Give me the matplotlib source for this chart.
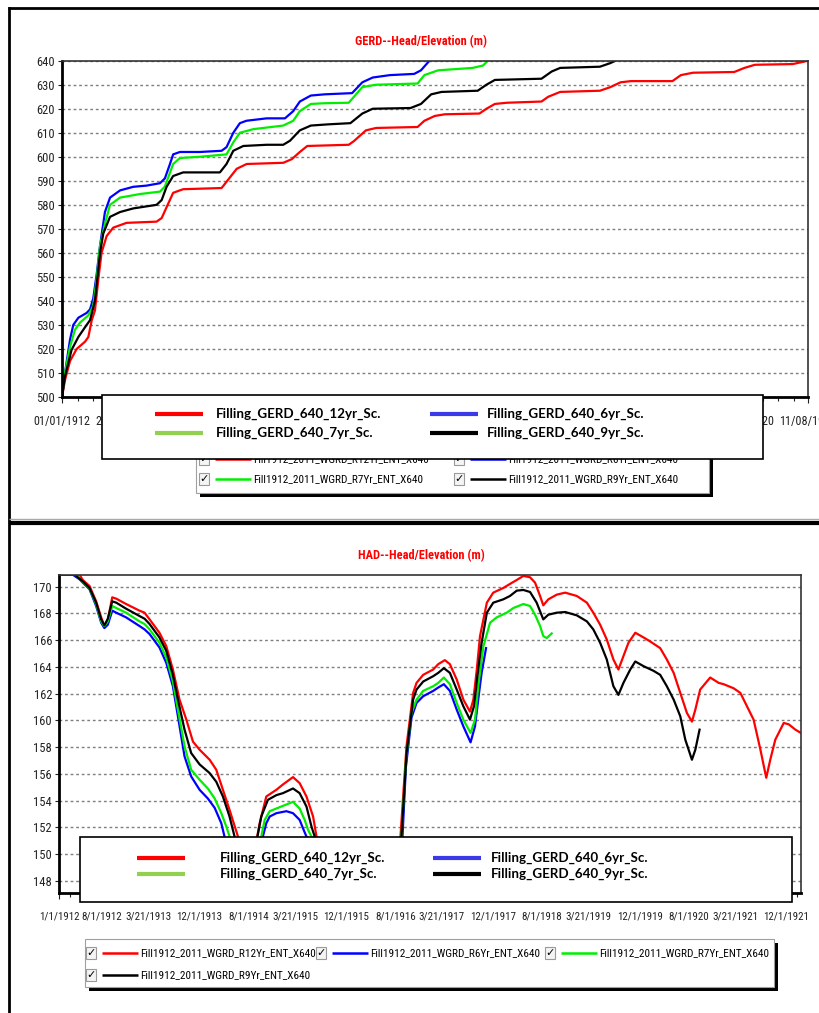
import numpy as np
import pandas as pd
import matplotlib
matplotlib.use("Agg")
import matplotlib.pyplot as plt
from matplotlib import font_manager as fm
from matplotlib.patches import Rectangle
from matplotlib.lines import Line2D
from matplotlib.ticker import AutoMinorLocator

W, H = 820, 1013
START = pd.Timestamp("1912-01-01")

# ---- GERD head/elevation (m), x = days since 1/1/1912 ----
gerd_12yr_days = [0, 14, 38, 69, 108, 124, 140, 155, 171, 186, 210, 241, 304, 445, 469, 492, 523, 570,
                  751, 782, 822, 869, 1041, 1081, 1119, 1154, 1349, 1373, 1430, 1478, 1673, 1705, 1754,
                  1802, 1964, 1997, 2037, 2094, 2256, 2288, 2344, 2531, 2580, 2628, 2677, 2872, 2912,
                  2969, 3163, 3211, 3260, 3438, 3486, 3510]
gerd_12yr = [500, 507, 515, 520, 523, 525, 532, 536, 549, 560, 567, 570.5, 572.5, 573, 574.5, 579, 585,
             586.5, 587, 590.5, 595, 597, 597.5, 599, 602, 604.5, 605, 606.5, 611, 612, 612.4, 615, 617,
             617.7, 618, 620, 622, 622.5, 623, 625, 627, 627.5, 629, 631, 631.5, 631.5, 634, 635, 635.3,
             637, 638.3, 638.6, 639.5, 640]

gerd_6yr_days = [0, 14, 38, 53, 77, 116, 132, 147, 163, 179, 202, 226, 273, 335, 398, 461, 484, 508, 523,
                 555, 649, 751, 774, 806, 837, 868, 963, 1049, 1088, 1119, 1171, 1236, 1365, 1413, 1462,
                 1543, 1657, 1689, 1729]
gerd_6yr = [500, 510, 524, 530, 533, 535, 536.5, 541, 551, 563, 577, 583, 586, 587.5, 588, 589, 591, 597,
            601, 602, 602, 602.5, 604, 610, 614, 615, 616, 616, 619, 623, 625.5, 626, 626.5, 631, 633,
            634, 634.5, 636, 640]

gerd_7yr_days = [0, 14, 38, 61, 85, 124, 147, 163, 179, 202, 226, 273, 367, 461, 484, 523, 555, 649, 774,
                 806, 837, 900, 1041, 1088, 1119, 1171, 1236, 1349, 1413, 1478, 1673, 1705, 1770, 1932,
                 1981, 2004]
gerd_7yr = [500, 510, 521, 528, 531, 534, 538, 549, 563, 572, 580, 583, 584.5, 585.5, 587.6, 597, 599.5,
            600, 601, 606, 610, 611.5, 613, 615, 619, 622, 622.3, 622.5, 629, 630, 630.5, 634, 636, 637,
            638, 640]

gerd_9yr_days = [0, 14, 45, 77, 108, 132, 155, 179, 194, 226, 273, 335, 445, 469, 492, 523, 570, 743, 774,
                 806, 853, 963, 1041, 1073, 1119, 1171, 1252, 1357, 1413, 1462, 1640, 1689, 1737, 1786,
                 1956, 1997, 2037, 2256, 2304, 2344, 2531, 2580, 2604]
gerd_9yr = [500, 508.6, 519.6, 525, 529, 532, 540, 560, 568, 575, 577, 578.5, 580, 582, 587.5, 592, 593.5,
            593.5, 597, 602.5, 604.5, 605, 605, 606.7, 611, 613, 613.5, 614, 618, 620, 620.3, 622, 626,
            627, 627.5, 630, 632, 632.5, 635.5, 637, 637.5, 639, 640]

gerd_ticks = ["01/01/1912", "20/10/1912", "08/08/1913", "27/05/1914", "16/03/1915", "02/01/1916",
              "21/10/1916", "09/08/1917", "29/05/1918", "17/03/1919", "04/01/1920", "22/10/1920",
              "11/08/1921"]

# ---- HAD head/elevation (m) ----
had_12yr_days = [0, 102, 118, 152, 185, 210, 226, 243, 265, 285, 334, 401, 426, 451, 500, 534, 567, 600,
                 634, 667, 700, 750, 783, 816, 849, 891, 940, 999, 1032, 1082, 1115, 1165, 1198, 1232,
                 1265, 1282, 1490, 1700, 1730, 1763, 1780, 1813, 1863, 1888, 1921, 1946, 1980, 2013, 2046,
                 2063, 2080, 2096, 2130, 2162, 2212, 2245, 2279, 2312, 2345, 2370, 2395, 2411, 2436, 2478,
                 2520, 2578, 2628, 2660, 2694, 2727, 2760, 2785, 2810, 2835, 2869, 2910, 2943, 2993, 3026,
                 3060, 3093, 3126, 3151, 3168, 3192, 3242, 3284, 3309, 3358, 3392, 3425, 3458, 3492, 3521,
                 3541, 3566, 3608, 3633, 3666, 3694]
had_12yr = [170.9, 170.9, 170.5, 170.05, 168.9, 167.7, 167.05, 167.5, 169.2, 169.1, 168.7, 168.2, 168.05,
            167.55, 166.55, 165.55, 163.8, 161.55, 160.05, 158.4, 157.8, 157.05, 156.3, 154.8, 153.3,
            151.3, 147.5, 152.3, 154.3, 154.8, 155.2, 155.75, 155.3, 154.3, 152.8, 151.3, 147.5, 151.3,
            158.05, 162.05, 162.8, 163.4, 163.8, 164.2, 164.5, 164.2, 163.05, 161.55, 160.65, 161.55,
            163.8, 166.3, 168.8, 169.55, 169.9, 170.2, 170.5, 170.8, 170.7, 170.3, 169.3, 168.6, 169.05,
            169.4, 169.55, 169.3, 168.8, 168.05, 167.15, 166.05, 164.55, 163.8, 164.8, 165.8, 166.55,
            166.2, 165.9, 165.4, 164.55, 163.55, 162.05, 160.55, 159.9, 160.8, 162.3, 163.2, 162.8,
            162.7, 162.4, 162.05, 161.05, 160.05, 157.8, 155.7, 157.05, 158.55, 159.8, 159.7, 159.3,
            159.05]

had_6yr_days = [0, 68, 102, 152, 185, 210, 226, 243, 265, 285, 334, 401, 426, 451, 500, 534, 567, 592, 625,
                658, 700, 741, 775, 808, 824, 910, 1015, 1032, 1049, 1082, 1132, 1165, 1198, 1218, 1232,
                1490, 1710, 1727, 1755, 1780, 1813, 1863, 1888, 1916, 1946, 1980, 2013, 2049, 2071, 2087,
                2104, 2126]
had_6yr = [170.9, 170.9, 170.55, 169.8, 168.55, 167.3, 166.9, 167.15, 168.2, 168.05, 167.7, 167.05, 166.8,
           166.45, 165.45, 164.3, 162.55, 160.3, 157.3, 155.8, 154.8, 154.15, 153.45, 152.3, 151.3, 147.5,
           151.3, 152.3, 152.8, 153.05, 153.2, 153.05, 152.55, 151.8, 151.3, 147.5, 151.3, 156.5, 160.2,
           161.3, 161.8, 162.2, 162.45, 162.7, 162.2, 160.8, 159.55, 158.35, 159.55, 161.55, 163.55,
           165.4]

had_7yr_days = [0, 77, 102, 152, 185, 210, 226, 243, 265, 285, 334, 401, 426, 451, 500, 534, 567, 592, 625,
                658, 700, 741, 775, 808, 833, 849, 920, 1007, 1024, 1049, 1082, 1132, 1165, 1198, 1223,
                1240, 1257, 1490, 1705, 1727, 1755, 1780, 1813, 1863, 1888, 1916, 1946, 1980, 2013, 2049,
                2071, 2087, 2113, 2146, 2179, 2229, 2262, 2312, 2345, 2370, 2395, 2411, 2428, 2453]
had_7yr = [170.9, 170.9, 170.6, 169.85, 168.7, 167.4, 167.05, 167.4, 168.55, 168.4, 168.05, 167.4, 167.2,
           166.8, 165.8, 164.7, 162.9, 160.8, 158.05, 156.3, 155.55, 154.9, 154.15, 153.05, 152.05, 151.3,
           147.5, 151.3, 152.55, 153.2, 153.4, 153.7, 153.9, 153.4, 152.55, 151.8, 151.3, 147.5, 151.3,
           157.0, 160.55, 161.55, 162.2, 162.55, 162.8, 163.2, 162.7, 161.3, 160.05, 159.05, 160.05,
           162.55, 165.55, 167.3, 167.7, 168.05, 168.4, 168.7, 168.55, 167.9, 167.05, 166.3, 166.15, 166.5]

had_9yr_days = [0, 77, 118, 152, 185, 210, 226, 243, 265, 285, 334, 401, 426, 451, 500, 534, 567, 592, 625,
                658, 700, 750, 783, 816, 849, 874, 935, 988, 1007, 1040, 1082, 1115, 1165, 1198, 1232,
                1257, 1273, 1490, 1705, 1730, 1763, 1780, 1813, 1863, 1888, 1916, 1946, 1980, 2013, 2046,
                2066, 2083, 2104, 2130, 2162, 2212, 2245, 2279, 2312, 2345, 2378, 2411, 2436, 2478, 2520,
                2578, 2628, 2660, 2694, 2727, 2760, 2785, 2810, 2844, 2869, 2910, 2960, 2993, 3026, 3060,
                3093, 3118, 3151, 3168, 3189]
had_9yr = [170.9, 170.9, 170.4, 169.9, 168.8, 167.55, 167.1, 167.6, 168.9, 168.8, 168.35, 167.8, 167.6,
           167.2, 166.2, 165.2, 163.4, 161.55, 159.3, 157.55, 156.7, 156.05, 155.4, 154.3, 152.8, 151.3,
           147.5, 151.3, 152.8, 154.05, 154.4, 154.55, 154.9, 154.55, 153.55, 152.05, 151.3, 147.5, 151.3,
           157.5, 161.55, 162.3, 162.9, 163.3, 163.55, 163.9, 163.55, 162.3, 161.05, 160.05, 161.05,
           163.3, 165.8, 168.05, 168.8, 169.05, 169.3, 169.7, 169.75, 169.6, 168.8, 167.55, 167.9, 168.05,
           168.1, 167.85, 167.4, 166.8, 165.8, 164.55, 162.55, 161.9, 162.8, 163.8, 164.4, 164.05, 163.7,
           163.4, 162.55, 161.55, 160.3, 158.55, 157.05, 157.8, 159.3]

had_ticks = ["1/1/1912", "8/1/1912", "3/21/1913", "12/1/1913", "8/1/1914", "3/21/1915", "12/1/1915",
             "8/1/1916", "3/21/1917", "12/1/1917", "8/1/1918", "3/21/1919", "12/1/1919", "8/1/1920",
             "3/21/1921", "12/1/1921"]

overlay_names = ["Filling_GERD_640_12yr_Sc.", "Filling_GERD_640_7yr_Sc.",
                 "Filling_GERD_640_6yr_Sc.", "Filling_GERD_640_9yr_Sc."]
overlay_colors = ["#ff0000", "#92d050", "#3a3ae8", "#000000"]
series_names = ["Fill1912_2011_WGRD_R12Yr_ENT_X640", "Fill1912_2011_WGRD_R6Yr_ENT_X640",
                "Fill1912_2011_WGRD_R7Yr_ENT_X640", "Fill1912_2011_WGRD_R9Yr_ENT_X640"]
series_colors = ["#ff0000", "#0000ff", "#00ee00", "#000000"]


def pick_font(cands, fallback):
    # first narrow family that is really installed, else a regular one shrunk a bit
    for name in cands:
        try:
            fm.findfont(fm.FontProperties(family=name), fallback_to_default=False)
            return name, 1.0
        except ValueError:
            continue
    path = fm.findfont(fm.FontProperties(family="DejaVu Sans", stretch="condensed"))
    if "Condensed" in path:
        return "DejaVu Sans", 0.9
    return fallback, 0.84


NARROW_NAME, NS = pick_font(["Liberation Sans Narrow", "Arial Narrow", "Roboto Condensed",
                             "Open Sans Condensed", "Noto Sans Condensed"], "Liberation Sans")
NARROW = [NARROW_NAME, "DejaVu Sans"]
STRETCH = "condensed" if NARROW_NAME == "DejaVu Sans" else "normal"
BOLD = ["Lato", "DejaVu Sans"]


def days(d):
    return START + pd.to_timedelta(np.asarray(d, dtype=float), unit="D")


def fx(x):
    return x / W


def fy(y):
    return 1 - y / H


fig = plt.figure(figsize=(W / 100, H / 100), dpi=100)


def narrow_text(x, y, s, size, **kw):
    return fig.text(fx(x), fy(y), s, family=NARROW, fontstretch=STRETCH, fontsize=size * NS, **kw)


def setup(ax, ylim, yticks, span, tick_pos, tick_labels, title, title_y, lsize, hidden=(0, 0)):
    ax.set_xlim(START, START + pd.Timedelta(days=span))
    ax.set_ylim(*ylim)
    ax.set_yticks(yticks)
    ax.set_yticklabels([str(v) for v in yticks], family=NARROW, fontstretch=STRETCH, fontsize=9.0 * NS)
    ax.set_xticks(tick_pos)
    ax.set_xticklabels(tick_labels, family=NARROW, fontstretch=STRETCH, fontsize=lsize * NS)
    ax.xaxis.set_minor_locator(AutoMinorLocator(4))
    ax.tick_params(axis="y", length=3, width=0.8, pad=2, colors="#222222")
    ax.tick_params(axis="x", which="both", length=4, width=0.8, pad=9, colors="#222222")
    ax.tick_params(axis="x", which="minor", length=3, pad=9)
    ax.grid(axis="y", color="#7f7f7f", lw=1.0, ls=(0, (2, 2)))
    ax.set_axisbelow(True)
    for s in ["left", "bottom"]:
        ax.spines[s].set_linewidth(2.0)
        ax.spines[s].set_color("black")
    for s in ["top", "right"]:
        ax.spines[s].set_linewidth(1.2)
        ax.spines[s].set_color("#333333")
    # labels lying wholly behind the pasted legend box are not drawn
    for lab in ax.get_xticklabels()[hidden[0]:hidden[1]]:
        lab.set_visible(False)
    narrow_text(421, title_y, title, 8.9, color="#ff0000", fontweight="bold", ha="center", va="center")


# top chart
ax1 = fig.add_axes([fx(62), fy(397), (808 - 62) / W, (397 - 60.7) / H])
for d, v, c in [(gerd_12yr_days, gerd_12yr, series_colors[0]), (gerd_6yr_days, gerd_6yr, series_colors[1]),
                (gerd_7yr_days, gerd_7yr, series_colors[2]), (gerd_9yr_days, gerd_9yr, series_colors[3])]:
    ax1.plot(days(d), v, color=c, lw=1.6, solid_joinstyle="round")
setup(ax1, (500, 640), list(range(500, 641, 10)), 3510,
      pd.to_datetime(gerd_ticks, format="%d/%m/%Y"), gerd_ticks,
      "GERD--Head/Elevation (m)", 42, 8.7, hidden=(2, 11))

# bottom chart
ax2 = fig.add_axes([fx(59), fy(893), (801 - 59) / W, (893 - 575) / H])
for d, v, c in [(had_12yr_days, had_12yr, series_colors[0]), (had_6yr_days, had_6yr, series_colors[1]),
                (had_7yr_days, had_7yr, series_colors[2]), (had_9yr_days, had_9yr, series_colors[3])]:
    ax2.plot(days(d), v, color=c, lw=1.6, solid_joinstyle="round")
setup(ax2, (147.08, 170.87), list(range(148, 171, 2)), 3694,
      pd.to_datetime(had_ticks, format="%m/%d/%Y"), had_ticks,
      "HAD--Head/Elevation (m)", 556, 7.9)


def box(x0, y0, x1, y1, z, ec="black", lw=1.2, fc="white"):
    fig.add_artist(Rectangle((fx(x0), fy(y1)), (x1 - x0) / W, (y1 - y0) / H, transform=fig.transFigure,
                             facecolor=fc, edgecolor=ec, lw=lw, zorder=z))


def hline(x0, x1, y, color, lw, z):
    fig.add_artist(Line2D([fx(x0), fx(x1)], [fy(y), fy(y)], transform=fig.transFigure, color=color,
                          lw=lw, zorder=z, solid_capstyle="butt"))


def checkbox(x, y, z):
    box(x, y - 6, x + 10, y + 6, z, ec="#9a9a9a", lw=0.8, fc="#f4f4f4")
    fig.text(fx(x + 5), fy(y), "\u2713", family="DejaVu Sans", fontsize=8, ha="center", va="center",
             zorder=z + 0.1)


def series_entry(x, y, name, color, z):
    checkbox(x, y, z)
    hline(x + 16, x + 52, y, color, 1.8, z)
    narrow_text(x + 54, y, name, 8.1, ha="left", va="center", zorder=z)


def overlay(x0, y0, x1, y1, rows, col_x, z):
    box(x0, y0, x1, y1, z)
    for i, (name, color) in enumerate(zip(overlay_names, overlay_colors)):
        col, row = divmod(i, 2)
        lx, tx = col_x[col]
        hline(lx, lx + 48, rows[row], color, 3.0, z + 0.1)
        fig.text(fx(tx), fy(rows[row]), name, family=BOLD, fontsize=9.6, fontweight="bold",
                 ha="left", va="center", zorder=z + 0.2)


# top: original chart legend, partly hidden
box(200, 449, 713, 497, 5, ec="black", lw=0, fc="black")
box(196, 445, 709, 493, 5.1, ec="#a0a0a0", lw=0.8)
series_entry(199, 459, series_names[0], series_colors[0], 6)
series_entry(454, 459, series_names[1], series_colors[1], 6)
series_entry(199, 479, series_names[2], series_colors[2], 6)
series_entry(454, 479, series_names[3], series_colors[3], 6)
overlay(102, 395, 762.5, 459, [414, 433], [(155, 216), (430, 487)], 10)

# bottom: original chart legend with shadow
box(89, 943, 778, 991, 5, ec="black", lw=0, fc="black")
box(85, 939, 774, 987, 5.1, ec="#a0a0a0", lw=0.8)
series_entry(86, 953, series_names[0], series_colors[0], 6)
series_entry(316, 953, series_names[1], series_colors[1], 6)
series_entry(545, 953, series_names[2], series_colors[2], 6)
series_entry(86, 975, series_names[3], series_colors[3], 6)
overlay(80, 837, 792, 902, [858, 874], [(137, 220), (433, 491)], 10)

# window frame
fig.add_artist(Line2D([fx(9), fx(9)], [fy(8), fy(1013)], transform=fig.transFigure, color="black", lw=2.0))
hline(8, 820, 8.5, "black", 2.0, 3)
hline(9, 820, 519, "#a8a8a8", 1.0, 3)
hline(9, 820, 523, "black", 3.0, 3)

fig.savefig("out.png", dpi=100)
